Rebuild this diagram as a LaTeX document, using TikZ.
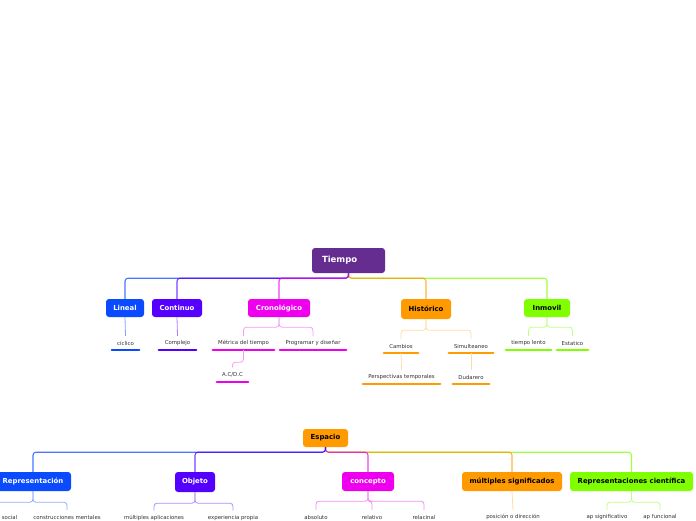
\documentclass[tikz,border=0pt]{standalone}
\usepackage{fontspec}
\setmainfont{DejaVu Sans}
\definecolor{cblue}{HTML}{0A4BFF}
\definecolor{cpurple}{HTML}{5500FF}
\definecolor{cmag}{HTML}{EE00EE}
\definecolor{corange}{HTML}{FF9A00}
\definecolor{cgreen}{HTML}{80FF00}
\definecolor{ctiempo}{HTML}{662D91}
\definecolor{ctext}{HTML}{333333}
\begin{document}
\begin{tikzpicture}[x=1pt,y=-1pt,
  box/.style={rounded corners=3pt,inner sep=0pt,font=\bfseries\fontsize{6.9}{7.5}\selectfont},
  wbox/.style={box,text=white},
  kbox/.style={box,text=black},
  leaf/.style={inner sep=0pt,minimum height=14pt,text=ctext,font=\fontsize{5.4}{6.4}\selectfont},
  ul/.style={line width=2.4pt,line cap=round},
  top/.style={line width=1.1pt,rounded corners=3pt,opacity=0.75},
  sub/.style={line width=0.8pt,rounded corners=3pt}]
\useasboundingbox (0,0) rectangle (696,520);
\fill[white] (0,0) rectangle (696,520);

% ---------- Tiempo ----------
\node[wbox,fill=ctiempo,minimum width=73pt,minimum height=25pt,text width=53pt,align=left,inner xsep=10pt,font=\bfseries\fontsize{8.5}{9}\selectfont] (T) at (348.5,260.5) {Tiempo};
\node[wbox,fill=cblue,minimum width=38pt,minimum height=18pt] (lin) at (125,308) {Lineal};
\node[wbox,fill=cpurple,minimum width=50pt,minimum height=18pt] (con) at (177,308) {Continuo};
\node[wbox,fill=cmag,minimum width=62pt,minimum height=18pt] (cro) at (279,308) {Cronológico};
\node[kbox,fill=corange,minimum width=50pt,minimum height=20pt] (his) at (426,309) {Histórico};
\node[kbox,fill=cgreen,minimum width=46pt,minimum height=18pt] (inm) at (547,308) {Inmovil};

\draw[top,cgreen] (T.south) -- ++(0,5) -| (inm.north);
\draw[top,corange] (T.south) -- ++(0,5) -| (his.north);
\draw[top,cblue] (T.south) -- ++(0,5) -| (lin.north);
\draw[top,cpurple] (T.south) -- ++(0,5) -| (con.north);
\draw[top,cmag] (T.south) -- ++(0,5) -| (cro.north);

\node[leaf,minimum width=27pt] (cic) at (125.5,343) {cíclico};
\node[leaf,minimum width=37pt] (com) at (177.5,343) {Complejo};
\node[leaf,minimum width=61pt] (met) at (243.5,343) {Métrica del tiempo};
\node[leaf,minimum width=66pt] (pro) at (313,343) {Programar y diseñar};
\node[leaf,minimum width=31pt] (acd) at (232.5,374.5) {A.C/D.C};
\node[leaf,minimum width=34pt] (cam) at (401,346) {Cambios};
\node[leaf,minimum width=44pt] (sim) at (471,346) {Simulteaneo};
\node[leaf,minimum width=77pt] (per) at (401.5,377) {Perspectivas temporales};
\node[leaf,minimum width=36pt] (dud) at (471,377) {Dudarero};
\node[leaf,minimum width=45pt] (tle) at (528.5,343) {tiempo lento};
\node[leaf,minimum width=31pt] (est) at (572.5,343) {Estatico};

\foreach \n/\c in {cic/cblue,com/cpurple,met/cmag,pro/cmag,acd/cmag,cam/corange,sim/corange,per/corange,dud/corange,tle/cgreen,est/cgreen}
  \draw[ul,\c] (\n.south west) -- (\n.south east);

\draw[sub,cblue!50] (lin.south) -- (cic.north);
\draw[sub,cpurple!50] (con.south) -- (com.north);
\draw[sub,cmag!40] (cro.south) -- ++(0,10) -| (met.north);
\draw[sub,cmag!40] (cro.south) -- ++(0,10) -| (pro.north);
\draw[sub,cmag!40] (met.south) -- ++(0,12) -| (acd.north);
\draw[sub,corange!35] (his.south) -- ++(0,11) -| (cam.north);
\draw[sub,corange!35] (his.south) -- ++(0,11) -| (sim.north);
\draw[sub,corange!35] (cam.south) -- (per.north);
\draw[sub,corange!35] (sim.south) -- (dud.north);
\draw[sub,cgreen!50] (inm.south) -- ++(0,10) -| (tle.north);
\draw[sub,cgreen!50] (inm.south) -- ++(0,10) -| (est.north);

% ---------- Espacio ----------
\node[kbox,fill=corange,minimum width=45pt,minimum height=18pt] (E) at (325.5,438) {Espacio};
\node[wbox,fill=cblue,minimum width=76pt,minimum height=19pt] (rep) at (33,481.5) {Representación};
\node[wbox,fill=cpurple,minimum width=40pt,minimum height=20pt] (obj) at (195,482) {Objeto};
\node[wbox,fill=cmag,minimum width=52pt,minimum height=19pt] (cpt) at (368,481.5) {concepto};
\node[kbox,fill=corange,minimum width=100pt,minimum height=19pt] (mul) at (512,481.5) {múltiples significados};
\node[kbox,fill=cgreen,minimum width=123pt,minimum height=19pt] (rci) at (631.5,481.5) {Representaciones científica};

\draw[top,cgreen] (E.south) -- ++(0,5) -| (rci.north);
\draw[top,corange] (E.south) -- ++(0,5) -| (mul.north);
\draw[top,cmag] (E.south) -- ++(0,5) -| (cpt.north);
\draw[top,cblue] (E.south) -- ++(0,5) -| (rep.north);
\draw[top,cpurple] (E.south) -- ++(0,5) -| (obj.north);

\node[leaf,anchor=east] (soc) at (17.5,517) {social};
\coordinate (soctop) at (-4,510);
\node[leaf] (cme) at (67,517) {construcciones mentales};
\node[leaf] (mapl) at (154,517.8) {múltiples aplicaciones};
\node[leaf] (exp) at (233,517.8) {experiencia propia};
\node[leaf] (abs) at (316,517) {absoluto};
\node[leaf] (rel) at (372,517) {relativo};
\node[leaf] (rcn) at (424,517) {relacinal};
\node[leaf] (pos) at (513,517) {posición o dirección};
\node[leaf] (aps) at (607,517) {ap significativo};
\node[leaf] (apf) at (660,517) {ap funcional};

\draw[sub,cblue!45] (rep.south) -- ++(0,11) -| (soctop);
\draw[sub,cblue!45] (rep.south) -- ++(0,11) -| (cme.north);
\draw[sub,cpurple!45] (obj.south) -- ++(0,11) -| (mapl.north);
\draw[sub,cpurple!45] (obj.south) -- ++(0,11) -| (exp.north);
\draw[sub,cmag!45] (cpt.south) -- ++(0,10) -| (abs.north);
\draw[sub,cmag!45] (cpt.south) -- ++(0,10) -| (rel.north);
\draw[sub,cmag!45] (cpt.south) -- ++(0,10) -| (rcn.north);
\draw[sub,corange!35] (mul.south) -- (pos.north);
\draw[sub,cgreen!50] (rci.south) -- ++(0,11) -| (aps.north);
\draw[sub,cgreen!50] (rci.south) -- ++(0,11) -| (apf.north);
\end{tikzpicture}
\end{document}
